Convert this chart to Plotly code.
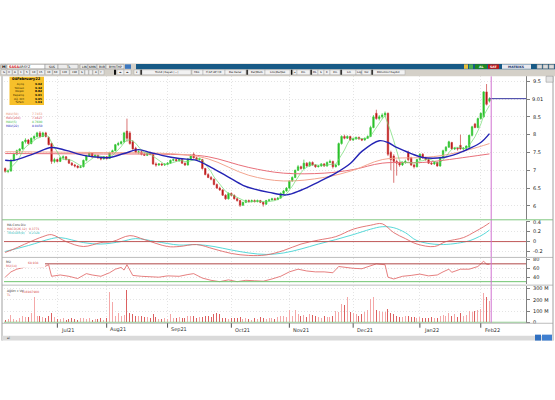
import plotly.graph_objects as go
import pandas as pd

W, H = 555, 400
def px(x): return x / W
def py(y): return 1 - y / H

FONT = "DejaVu Sans"

# ---------------- data ----------------
opens = [7.05,6.97,6.98,7.28,7.45,7.55,7.6,7.8,7.85,7.75,
         7.9,7.95,8.05,7.95,8.05,7.92,7.75,7.25,7.3,7.25,
         7.35,7.38,7.3,7.2,7.15,7.12,7.08,7.1,7.28,7.4,
         7.48,7.38,7.42,7.35,7.32,7.38,7.33,7.5,7.55,7.72,
         7.75,7.8,8.1,8.05,7.8,7.62,7.5,7.52,7.45,7.42,
         7.48,7.45,7.18,7.15,7.18,7.15,7.17,7.2,7.28,7.3,
         7.27,7.3,7.2,7.15,7.32,7.45,7.35,7.3,7.3,7.05,
         6.88,6.8,6.75,6.6,6.5,6.45,6.3,6.2,6.35,6.3,
         6.2,6.15,6.02,6.1,6.15,6.12,6.15,6.12,6.15,6.1,
         6.05,6.15,6.17,6.2,6.18,6.22,6.35,6.42,6.5,6.7,
         6.8,7.0,7.1,7.05,7.2,7.12,7.22,7.15,7.1,7.12,
         7.18,7.12,7.22,7.25,7.1,7.15,7.75,7.95,7.9,7.95,
         7.85,7.88,7.92,7.88,7.85,7.9,7.95,8.2,8.6,8.45,
         8.5,8.55,8.6,7.5,7.4,7.25,7.2,7.15,7.22,7.5,
         7.35,7.15,7.1,7.3,7.45,7.35,7.3,7.2,7.18,7.22,
         7.12,7.35,7.55,7.65,7.78,7.6,7.62,7.7,7.6,7.62,
         7.65,7.98,8.3,8.2,8.45,8.5,9.2,8.94]
highs = [7.08,7.02,7.32,7.48,7.58,7.62,7.82,7.9,7.88,7.92,
         7.98,8.08,8.1,8.08,8.08,7.95,7.78,7.35,7.33,7.38,
         7.42,7.4,7.32,7.23,7.18,7.14,7.15,7.3,7.42,7.52,
         7.5,7.45,7.44,7.38,7.4,7.4,7.52,7.58,7.74,7.8,
         7.83,8.08,8.45,8.1,7.85,7.66,7.56,7.55,7.5,7.5,
         7.52,7.47,7.22,7.2,7.2,7.2,7.23,7.3,7.33,7.33,
         7.32,7.32,7.22,7.34,7.45,7.5,7.38,7.35,7.32,7.07,
         6.92,6.84,6.77,6.63,6.54,6.47,6.33,6.38,6.38,6.32,
         6.23,6.17,6.12,6.18,6.18,6.18,6.18,6.18,6.17,6.12,
         6.17,6.2,6.23,6.23,6.25,6.38,6.45,6.53,6.72,6.83,
         7.02,7.15,7.13,7.3,7.23,7.25,7.25,7.17,7.15,7.2,
         7.2,7.25,7.3,7.27,7.18,7.78,7.98,8.0,7.98,7.97,
         7.9,7.95,7.95,7.9,7.92,7.98,8.25,8.55,8.7,8.55,
         8.6,8.65,8.62,7.55,7.45,7.3,7.25,7.25,7.3,7.55,
         7.38,7.18,7.32,7.48,7.48,7.38,7.33,7.23,7.25,7.24,
         7.38,7.58,7.68,7.83,7.8,7.65,7.65,8.0,7.65,7.7,
         8.0,8.25,8.33,8.48,8.62,9.22,9.42,9.05]
lows = [6.93,6.92,6.96,7.25,7.42,7.48,7.58,7.75,7.72,7.73,
        7.85,7.92,7.92,7.93,7.92,7.7,7.18,7.2,7.22,7.23,
        7.3,7.28,7.18,7.12,7.08,7.05,7.06,7.08,7.25,7.38,
        7.35,7.35,7.32,7.28,7.3,7.3,7.32,7.47,7.53,7.68,
        7.72,7.76,7.8,7.72,7.58,7.48,7.45,7.42,7.4,7.4,
        7.42,7.15,7.1,7.12,7.12,7.12,7.14,7.18,7.25,7.24,
        7.24,7.18,7.12,7.13,7.3,7.33,7.28,7.27,7.02,6.86,
        6.78,6.72,6.58,6.48,6.42,6.28,6.17,6.18,6.27,6.18,
        6.12,5.97,6.0,6.08,6.1,6.1,6.1,6.1,6.08,5.98,
        6.03,6.12,6.15,6.15,6.16,6.2,6.33,6.4,6.48,6.68,
        6.78,6.98,7.02,7.03,7.1,7.1,7.13,7.07,7.08,7.1,
        7.1,7.1,7.2,7.05,7.08,7.13,7.72,7.87,7.88,7.83,
        7.82,7.86,7.86,7.82,7.83,7.88,7.93,8.18,8.42,8.4,
        8.45,8.5,7.4,7.0,6.65,6.85,7.1,7.12,7.18,7.25,
        7.12,7.05,7.08,7.28,7.33,7.27,7.18,7.15,7.15,7.1,
        7.1,7.33,7.52,7.63,7.58,7.57,7.55,7.58,7.57,7.6,
        7.63,7.95,8.18,8.18,8.42,8.48,8.82,8.9]
closes = [6.97,6.98,7.28,7.45,7.55,7.6,7.8,7.85,7.75,7.9,
          7.95,8.05,7.95,8.05,7.95,7.72,7.25,7.3,7.25,7.35,
          7.38,7.3,7.2,7.15,7.12,7.08,7.1,7.28,7.4,7.48,
          7.38,7.42,7.35,7.32,7.38,7.33,7.5,7.55,7.72,7.75,
          7.8,8.05,7.9,7.75,7.6,7.5,7.52,7.45,7.42,7.48,
          7.45,7.18,7.15,7.18,7.15,7.17,7.2,7.28,7.3,7.27,
          7.3,7.2,7.15,7.32,7.42,7.35,7.3,7.32,7.05,6.88,
          6.8,6.75,6.6,6.5,6.45,6.3,6.2,6.35,6.3,6.2,
          6.15,6.02,6.1,6.15,6.12,6.15,6.12,6.15,6.1,6.05,
          6.15,6.17,6.2,6.18,6.22,6.35,6.42,6.5,6.7,6.8,
          7.0,7.1,7.05,7.2,7.12,7.22,7.15,7.1,7.12,7.18,
          7.12,7.22,7.25,7.1,7.15,7.75,7.95,7.9,7.95,7.85,
          7.88,7.92,7.88,7.85,7.9,7.95,8.2,8.5,8.45,8.5,
          8.55,8.6,7.45,7.3,7.25,7.2,7.15,7.22,7.25,7.3,
          7.15,7.1,7.3,7.45,7.35,7.3,7.2,7.18,7.22,7.12,
          7.35,7.55,7.65,7.8,7.6,7.62,7.6,7.6,7.62,7.68,
          7.98,8.22,8.2,8.45,8.6,9.2,8.85,9.01]
volumes_m = [20,30,65,30,25,35,55,50,45,82,
             226,60,55,45,40,55,80,45,30,30,
             35,25,30,40,30,25,35,40,30,35,
             25,30,30,35,25,40,270,185,60,80,
             55,65,290,80,75,60,55,60,50,45,
             40,75,45,30,30,35,30,70,40,35,
             45,35,40,60,55,60,40,45,50,55,
             60,45,75,80,70,40,35,30,40,35,
             40,45,30,35,30,25,35,30,45,40,
             30,35,40,30,45,60,55,50,113,60,
             113,70,55,65,45,70,65,60,50,40,
             55,50,45,60,100,95,160,155,230,90,
             80,70,60,75,90,110,205,227,110,105,
             95,90,115,80,70,60,50,45,55,60,
             45,50,40,45,40,35,40,45,35,40,
             55,65,60,85,55,70,50,80,60,65,
             100,95,105,110,120,265,230,190]

# moving averages read at sample points (index, value)
ma22_idx = [0,3,10,16,21,27,33,36,41,46,50,54,60,66,71,77,82,86,91,97,102,108,114,119,123,129,132,135,140,144,151,156,160,164,167]
ma22_val = [7.28,7.28,7.47,7.64,7.56,7.42,7.36,7.36,7.47,7.58,7.5,7.42,7.33,7.28,7.08,6.81,6.58,6.47,6.38,6.31,6.44,6.67,6.92,7.19,7.53,7.83,7.78,7.64,7.47,7.36,7.36,7.47,7.61,7.78,8.03]
ma50_idx = [0,30,60,70,84,96,110,120,130,144,151,160,167]
ma50_val = [7.52,7.5,7.45,7.32,6.86,6.7,6.8,7.0,7.3,7.36,7.42,7.58,7.75]
ma200_idx = [0,30,60,70,84,96,110,120,130,144,151,160,167]
ma200_val = [7.47,7.46,7.44,7.38,7.08,6.92,6.92,7.02,7.2,7.22,7.28,7.38,7.46]

macd_idx = [0,3,8,13,16,21,27,33,37,43,48,56,60,66,72,78,84,90,96,102,108,114,120,126,130,134,138,142,148,152,158,162,165,167]
macd_val = [-0.22,-0.15,-0.02,0.1,0.14,0.0,-0.1,-0.02,0.0,0.12,0.04,-0.1,-0.1,-0.06,-0.15,-0.24,-0.28,-0.27,-0.18,-0.05,0.03,0.1,0.25,0.33,0.36,0.18,0.06,-0.05,-0.1,0.0,0.08,0.2,0.3,0.377]
sig_idx = [0,8,16,19,27,33,40,45,52,60,66,72,78,84,90,96,102,108,114,120,126,130,134,138,142,150,159,162,165,167]
sig_val = [-0.2,-0.08,0.06,0.08,-0.02,-0.05,0.0,0.06,0.0,-0.07,-0.06,-0.1,-0.17,-0.23,-0.26,-0.23,-0.15,-0.05,0.04,0.14,0.25,0.3,0.28,0.18,0.02,-0.06,0.0,0.06,0.15,0.233]

rsi_idx = [0,2,4,7,10,13,15,16,19,22,25,28,30,33,36,38,40,41,42,44,47,50,53,56,60,63,65,68,71,74,77,80,83,86,89,92,95,98,101,104,107,110,113,115,117,120,123,126,128,131,132,134,137,140,143,146,149,151,153,154,157,160,162,163,165,166,167]
rsi_val = [40,52,58,63,64,62,68,42,45,42,37,48,45,42,50,58,62,56,68,44,42,41,40,43,42,46,48,38,33,30,34,30,33,32,31,36,42,52,58,54,52,52,50,64,62,60,59,66,70,68,40,36,42,44,47,43,45,52,58,51,58,58,62,64,76,69,68.9]

month_idx = [18,35,56,78,98,120,143,164]
month_lbl = ["Jul21","Aug21","Sep21","Oct21","Nov21","Dec21","Jan22","Feb22"]

price_ticks = [9.5,9.0,8.5,8.0,7.5,7.0,6.5,6.0]
price_text = ["9.5","","8.5","8","7.5","7","6.5","6"]

info_labels = ["Açılış","Yüksek","Düşük","Kapanış","Ağ. Ort","%Fark"]
info_values = ["9.02","9.32","8.82","9.01","9.05","1.63"]

ma_leg_names = ["MAV(50)","MAV(200)","MAV(5)","MAV(22)"]
ma_leg_values = ["7.7453","7.4627","8.7600","8.0450"]
ma_leg_colors = ["#e88a70","#d84a5a","#3fb83f","#2222b8"]

x = list(range(len(closes)))
ma5 = pd.Series(closes).rolling(5, min_periods=1).mean()

fig = go.Figure()

fig.add_trace(go.Candlestick(
    x=x, open=opens, high=highs, low=lows, close=closes,
    increasing=dict(line=dict(color="#36c436", width=0.7), fillcolor="#22c022"),
    decreasing=dict(line=dict(color="#cc3a3a", width=0.7), fillcolor="#b00000"),
    whiskerwidth=0, xaxis="x", yaxis="y", showlegend=False, hoverinfo="skip"))
fig.add_trace(go.Scatter(x=ma200_idx, y=ma200_val, mode="lines", line=dict(color="#e8707a", width=1, shape="spline"),
                         xaxis="x", yaxis="y", showlegend=False, hoverinfo="skip"))
fig.add_trace(go.Scatter(x=ma50_idx, y=ma50_val, mode="lines", line=dict(color="#f2a590", width=1, shape="spline"),
                         xaxis="x", yaxis="y", showlegend=False, hoverinfo="skip"))
fig.add_trace(go.Scatter(x=x, y=ma5, mode="lines", line=dict(color="#70dc70", width=0.7),
                         xaxis="x", yaxis="y", showlegend=False, hoverinfo="skip"))
fig.add_trace(go.Scatter(x=ma22_idx, y=ma22_val, mode="lines", line=dict(color="#2424b4", width=1.4, shape="spline"),
                         xaxis="x", yaxis="y", showlegend=False, hoverinfo="skip"))

fig.add_trace(go.Scatter(x=sig_idx, y=sig_val, mode="lines", line=dict(color="#45d4d4", width=0.9, shape="spline"),
                         xaxis="x2", yaxis="y2", showlegend=False, hoverinfo="skip"))
fig.add_trace(go.Scatter(x=macd_idx, y=macd_val, mode="lines", line=dict(color="#e06a6a", width=0.9, shape="spline"),
                         xaxis="x2", yaxis="y2", showlegend=False, hoverinfo="skip"))

fig.add_trace(go.Scatter(x=rsi_idx, y=rsi_val, mode="lines", line=dict(color="#e06060", width=0.8),
                         xaxis="x3", yaxis="y3", showlegend=False, hoverinfo="skip"))

vcol = ["#f4a8a8" if c >= o else "#dc6060" for o, c in zip(opens, closes)]
fig.add_trace(go.Bar(x=x, y=volumes_m, marker=dict(color=vcol, line=dict(width=0)), width=0.36,
                     xaxis="x4", yaxis="y4", showlegend=False, hoverinfo="skip"))

XR = [-0.4, 179.6]
XD = [px(4), px(526)]
GRID = "#d2d2d2"
GDASH = "1px,2px"
def xax(anchor):
    return dict(domain=XD, range=XR, anchor=anchor, tickvals=month_idx, showticklabels=False,
                showgrid=True, gridcolor=GRID, griddash=GDASH, gridwidth=0.6,
                zeroline=False, showline=False, ticks="", fixedrange=True)

tf = dict(family=FONT, size=5, color="#222")
def yax(dom, rng, tv, tt):
    return dict(domain=dom, range=rng, side="right", tickvals=tv, ticktext=tt, tickfont=tf,
                showgrid=True, gridcolor=GRID, griddash=GDASH, gridwidth=0.6, zeroline=False,
                showline=True, linecolor="#808080", linewidth=1, ticks="outside", ticklen=3,
                tickcolor="#808080", ticklabelstandoff=2, fixedrange=True)

fig.update_layout(
    width=W, height=H, autosize=False, margin=dict(l=0, r=0, t=0, b=0),
    paper_bgcolor="white", plot_bgcolor="white", showlegend=False, bargap=0,
    xaxis=dict(xax("y"), rangeslider=dict(visible=False)),
    xaxis2=xax("y2"), xaxis3=xax("y3"), xaxis4=xax("y4"),
    yaxis=yax([py(220), py(75)], [5.611, 9.639], price_ticks, price_text),
    yaxis2=yax([py(258), py(221)], [-0.32, 0.42], [0.4, 0.2, 0, -0.2], ["0.4", "0.2", "0", "-0.2"]),
    yaxis3=yax([py(285), py(259)], [24.4, 82.2], [80, 60, 40], ["80", "60", "40"]),
    yaxis4=yax([py(324), py(287)], [-4, 323], [300, 200, 100, 0], ["300 M", "200 M", "100 M", "0"]),
)

shapes = []
ann = []
def rect(x0, y0, x1, y1, fill, line=None, lw=0):
    shapes.append(dict(type="rect", xref="paper", yref="paper", x0=px(x0), x1=px(x1), y0=py(y1), y1=py(y0),
                       fillcolor=fill, line=dict(color=line or fill, width=lw), layer="above"))
def hline(y, x0, x1, color, w=1):
    shapes.append(dict(type="line", xref="paper", yref="paper", x0=px(x0), x1=px(x1), y0=py(y), y1=py(y),
                       line=dict(color=color, width=w), layer="above"))
def text(xp, yp, s, size=5, color="#222", anchor="left", bold=False, align="left", yanchor="middle"):
    ann.append(dict(xref="paper", yref="paper", x=px(xp), y=py(yp), text=("<b>%s</b>" % s) if bold else s,
                    showarrow=False, xanchor=anchor, yanchor=yanchor, align=align,
                    font=dict(family=FONT, size=size, color=color), borderpad=0))

# data-based reference lines
shapes.append(dict(type="line", xref="x2", yref="y2", x0=XR[0], x1=XR[1], y0=0, y1=0,
                   line=dict(color="#c05858", width=1)))
shapes.append(dict(type="line", xref="x3", yref="y3", x0=XR[0], x1=XR[1], y0=70, y1=70,
                   line=dict(color="#b04848", width=1)))
shapes.append(dict(type="line", xref="x3", yref="y3", x0=XR[0], x1=XR[1], y0=30, y1=30,
                   line=dict(color="#70c470", width=1)))
shapes.append(dict(type="line", xref="x4", yref="y4", x0=XR[0], x1=XR[1], y0=0, y1=0,
                   line=dict(color="#70c470", width=1)))
last = len(closes) - 1
shapes.append(dict(type="line", xref="x", yref="y", x0=last, x1=XR[1], y0=closes[-1], y1=closes[-1],
                   line=dict(color="#3636a0", width=1)))
shapes.append(dict(type="line", xref="x", yref="paper", x0=last + 0.6, x1=last + 0.6,
                   y0=py(324), y1=py(75), line=dict(color="#d070d0", width=1), layer="above"))

# panel separators and frame
hline(220, 2, 553, "#80c880", 1)
hline(258, 2, 553, "#bcbcbc", 1)
hline(286, 2, 553, "#bcbcbc", 1)
hline(324.5, 2, 553, "#bcbcbc", 1)
for xv in (2, 553):
    shapes.append(dict(type="line", xref="paper", yref="paper", x0=px(xv), x1=px(xv), y0=py(342), y1=py(74),
                       line=dict(color="#a0a0a0", width=1)))

# month tick marks and labels
for i, lbl in zip(month_idx, month_lbl):
    shapes.append(dict(type="line", xref="x", yref="paper", x0=i, x1=i, y0=py(329), y1=py(324.5),
                       line=dict(color="#555", width=1)))
    ann.append(dict(xref="x", yref="paper", x=i + 0.6, y=py(331), text=lbl, showarrow=False,
                    xanchor="left", yanchor="middle", font=dict(family=FONT, size=5, color="#333")))

# last price label
ann.append(dict(xref="paper", yref="y", x=px(530), y=closes[-1], text="%.2f" % closes[-1], showarrow=False,
                xanchor="left", yanchor="middle", font=dict(family=FONT, size=5, color="#222")))

# window chrome: title bar and toolbar
rect(0, 62, 555, 75, "#d4d0c8")
rect(136, 62.5, 555, 68, "#175a86")
rect(1, 63, 6, 67.5, "#e8e8e8", "#888", 0.5)
text(3.5, 65.3, "M", 3.6, "#000", "center", True)
rect(7, 63, 45, 67.5, "#ffffff", "#888", 0.5)
text(8, 65.3, "SASA", 3.4, "#d02020", "left", True)
text(18, 65.3, "ARSYZ", 3.4, "#000")
for (a, b, t) in [(45, 58, "SUS"), (58, 78, "TL"), (80, 88, "LIN"), (88, 97, "KMN"), (97, 106, "BVB"), (106, 124, "BYH/THP")]:
    rect(a, 63, b, 67.5, "#ececec", "#888", 0.5)
    text((a + b) / 2, 65.3, t, 3.0, "#000", "center")
rect(125, 63, 131, 67.5, "#3c78c0")
rect(464, 63, 468, 67.5, "#e8c040")
rect(469, 63, 473, 67.5, "#4caf50")
rect(475, 63, 487, 67.5, "#1f8a1f")
text(481, 65.3, "AL", 3.2, "#fff", "center", True)
rect(488, 63, 499, 67.5, "#c01818")
text(493.5, 65.3, "SAT", 3.2, "#fff", "center", True)
rect(502, 63, 531, 67.5, "#e9e9ef")
text(516.5, 65.3, "MATRIKS", 3.2, "#10306a", "center", True)
for a in (537, 543, 549):
    rect(a, 63.3, a + 5, 67.3, "#dcdcdc", "#888", 0.5)

# toolbar row 2
btns = ["G", "H", "A", "1", "5", "10", "15", "30", "60", "120", "240", "S", "", "", "A", "Y"]
bx = 1
for t in btns:
    w = 3.4 + 1.8 * len(t)
    rect(bx, 68.5, bx + w, 73.5, "#efefef", "#999", 0.4)
    if t:
        text(bx + w / 2, 71, t, 2.6, "#000", "center")
    bx += w + 0.6
rect(114, 68.5, 116, 73.5, "#111")
for (a, b, t) in [(117, 124, "◂▸"), (124, 131, "◂▸"), (134, 140, "▾"), (142, 191, "Trend | Kayan | ─ |"),
                  (192, 203, "Fibo"), (203, 225, "Fİ,ST,AP,Y/K"), (225, 246, "Dai.Kanal"),
                  (248, 265, "Bar|Mum"), (265, 290, "Line|Bar|Gü"), (293, 297, "◂"),
                  (297, 310, "X¼"), (312, 318, "DL"), (318, 324, "S"), (324, 330, "K"), (330, 340, "X¼"),
                  (342, 356, "Lin"), (356, 362, "Log"), (362, 371, "Yüz"), (373, 405, "Dönemler Kaydet")]:
    rect(a, 68.5, b, 73.5, "#f2f2f2", "#999", 0.4)
    text((a + b) / 2, 71, t, 2.6, "#000", "center")
for a in (140.5, 246.5, 291, 310.5, 340.5, 371.5):
    rect(a, 68.5, a + 1.3, 73.5, "#111")
rect(546, 75, 553, 81, "#e4e4e4", "#888", 0.5)

# bottom status
rect(2, 337, 553, 342, "#dadada")
text(6, 339.5, "ai", 3.2, "#333")
rect(535, 336, 541, 342, "#2f6fc0")
rect(542, 336, 552, 342, "#3f7fd0")

# info box
rect(9.5, 75.5, 44, 104, "#f7c02a")
text(26.5, 78.2, "04February22", 3.6, "#000", "center", True)
text(26, 80.3, "<br>".join(info_labels), 2.8, "#3a2a00", "right", align="right", yanchor="top")
text(42.5, 80.3, "<br>".join("<b>%s</b>" % v for v in info_values), 2.8, "#000", "right", align="right", yanchor="top")

# main legend
text(5, 110.5, "<br>".join('<span style="color:%s">%s</span>' % (c, n) for n, c in zip(ma_leg_names, ma_leg_colors)),
     3.0, "#333", "left", yanchor="top")
text(44, 110.5, "<br>".join('<span style="color:%s">%s</span>' % (c, v) for v, c in zip(ma_leg_values, ma_leg_colors)),
     3.0, "#333", "right", align="right", yanchor="top")

# MACD legend
text(5, 222.3, 'MA.Conv.Div<br><span style="color:#d85050">MACD(26,12)</span><br><span style="color:#30bcbc">TRIGGER(9)</span>',
     3.0, "#333", "left", yanchor="top")
text(41, 222.3, '&nbsp;<br><span style="color:#d85050">0,3771</span><br><span style="color:#30bcbc">0,2328</span>',
     3.0, "#333", "right", align="right", yanchor="top")

# RSI legend
rect(3, 259, 45, 268.5, "#ffffff")
text(5, 259.6, 'RSI<br><span style="color:#d85050">RSI(14)</span>', 3.0, "#333", "left", yanchor="top")
text(40, 263.7, "68,938", 3.0, "#d85050", "right")

# volume legend
text(5, 288.6, 'AğOrt x Vol<br><span style="color:#d85050">TL</span>', 3.0, "#333", "left", yanchor="top")
text(40, 292.8, "116987900", 3.0, "#d85050", "right")

fig.update_layout(shapes=shapes, annotations=ann)
fig.write_html("out.html", config={"displayModeBar": False, "staticPlot": True},
               post_script="document.body.style.margin='0';document.body.style.overflow='hidden';")
